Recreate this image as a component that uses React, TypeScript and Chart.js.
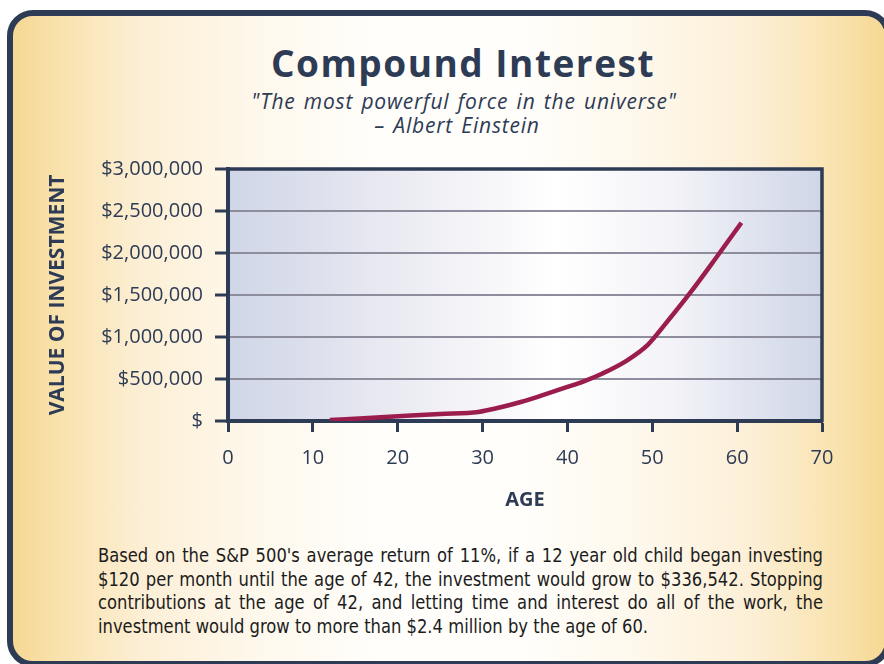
import React, { useEffect, useRef } from "react";
import { Chart, registerables } from "chart.js";

Chart.register(...registerables);

// ---- data ----
const ages = [12, 16, 21, 25, 29.5, 32, 34.5, 37, 40, 42, 44, 47, 49.5, 51.5, 54.5, 57.5, 60.5];
const values = [12000, 34000, 62000, 84000, 108000, 160000, 226000, 305000, 405000, 475000, 560000, 720000, 910000, 1150000, 1530000, 1940000, 2360000];
const yTickLabels = ["$", "$500,000", "$1,000,000", "$1,500,000", "$2,000,000", "$2,500,000", "$3,000,000"];
const xMin = 0;
const xMax = 70;
const xStep = 10;
const yMax = 3000000;
const yStep = 500000;

const titleText = "Compound Interest";
const quoteLine1 = "\"The most powerful force in the universe\"";
const quoteLine2 = "– Albert Einstein";
const xTitle = "AGE";
const yTitle = "VALUE OF INVESTMENT";
const paragraphLines = [
  "Based on the S&P 500's average return of 11%, if a 12 year old child began investing",
  "$120 per month until the age of 42, the investment would grow to $336,542. Stopping",
  "contributions at the age of 42, and letting time and interest do all of the work, the",
  "investment would grow to more than $2.4 million by the age of 60.",
];

const NAVY = "#2e3b55";
const CANVAS_TOP = 145;
const CANVAS_H = 385;
const PARA_SCALE = 0.91;

const plotDecor = {
  id: "plotDecor",
  beforeDraw(chart: any) {
    const { ctx, chartArea } = chart;
    const { left, right, top, bottom } = chartArea;
    const g = ctx.createLinearGradient(left, 0, right, 0);
    g.addColorStop(0, "#cfd6e7");
    g.addColorStop(0.28, "#eaeaf2");
    g.addColorStop(0.55, "#ffffff");
    g.addColorStop(0.75, "#f3f3f8");
    g.addColorStop(1, "#cfd6e7");
    ctx.save();
    ctx.fillStyle = g;
    ctx.fillRect(left, top, right - left, bottom - top);
    ctx.restore();
  },
  afterDraw(chart: any) {
    const { ctx, chartArea } = chart;
    const { left, right, top, bottom } = chartArea;
    ctx.save();
    ctx.strokeStyle = NAVY;
    ctx.lineWidth = 3.5;
    ctx.beginPath();
    ctx.moveTo(left, top);
    ctx.lineTo(right, top);
    ctx.lineTo(right, bottom + 1);
    ctx.stroke();
    ctx.restore();
  },
};

function CompoundChart() {
  const ref = useRef<HTMLCanvasElement | null>(null);
  useEffect(() => {
    if (!ref.current) return;
    const chart = new Chart(ref.current, {
      type: "line",
      data: {
        datasets: [
          {
            data: ages.map((a, i) => ({ x: a, y: values[i] })),
            borderColor: "#9b1d4e",
            borderWidth: 4.5,
            pointRadius: 0,
            cubicInterpolationMode: "monotone",
            fill: false,
          },
        ],
      },
      options: {
        responsive: false,
        animation: false,
        devicePixelRatio: 1,
        layout: { padding: { top: 0, right: 62, left: 0, bottom: 0 } },
        plugins: {
          legend: { display: false },
          tooltip: { enabled: false },
          title: { display: false },
        },
        scales: {
          x: {
            type: "linear",
            min: xMin,
            max: xMax,
            afterFit: (s: any) => {
              s.height = 109;
            },
            ticks: {
              stepSize: xStep,
              color: NAVY,
              font: { family: "'Open Sans', sans-serif", size: 20 },
              padding: 14,
              maxRotation: 0,
            },
            grid: {
              drawOnChartArea: false,
              drawTicks: true,
              tickLength: 11,
              tickColor: NAVY,
              tickWidth: 3,
            },
            border: { color: NAVY, width: 4 },
            title: {
              display: true,
              text: xTitle,
              color: NAVY,
              font: { family: "'Open Sans', sans-serif", size: 20, weight: "bold" },
              padding: { top: 0, bottom: 18 },
            },
          },
          y: {
            min: 0,
            max: yMax,
            afterFit: (s: any) => {
              s.width = 228;
            },
            ticks: {
              stepSize: yStep,
              color: NAVY,
              font: { family: "'Open Sans', sans-serif", size: 20 },
              padding: 12,
              callback: (_v: any, i: number) => yTickLabels[i],
            },
            grid: {
              color: "#8d8d9d",
              lineWidth: 2,
              drawTicks: true,
              tickLength: 13,
              tickColor: NAVY,
              tickWidth: 3,
            },
            border: { color: NAVY, width: 4 },
            title: {
              display: true,
              text: yTitle,
              color: NAVY,
              font: { family: "'Open Sans', sans-serif", size: 21, weight: "bold" },
              padding: { top: 45, bottom: 0 },
            },
          },
        },
      },
      plugins: [plotDecor],
    } as any);
    return () => chart.destroy();
  }, []);
  return (
    <canvas
      ref={ref}
      width={884}
      height={CANVAS_H}
      style={{ position: "absolute", left: 0, top: CANVAS_TOP, width: 884, height: CANVAS_H }}
    />
  );
}

export default function App() {
  const frameBg =
    "linear-gradient(to right, #f5d893 0%, #f9e3b0 6%, #fcefd6 15%, #fef8ec 28%, #fffefb 42%, #fffefb 58%, #fef8ec 72%, #fcefd6 85%, #f9e3b0 94%, #f5d893 100%)";
  const quoteStyle: any = {
    position: "absolute",
    width: 600,
    textAlign: "center",
    fontFamily: "'Open Sans', sans-serif",
    fontStyle: "italic",
    fontSize: 21,
    letterSpacing: "0.8px",
    wordSpacing: "2px",
    lineHeight: "24px",
    color: NAVY,
  };
  return (
    <div
      style={{
        position: "fixed",
        left: 0,
        top: 0,
        width: 884,
        height: 664,
        overflow: "hidden",
        background: "#ffffff",
      }}
    >
      <div
        style={{
          position: "absolute",
          left: 7,
          top: 10,
          width: 884,
          height: 657,
          boxSizing: "border-box",
          border: `6px solid ${NAVY}`,
          borderRadius: 26,
          background: frameBg,
        }}
      />
      <div
        style={{
          position: "absolute",
          left: 163,
          width: 600,
          top: 43,
          textAlign: "center",
          fontFamily: "'Open Sans', sans-serif",
          fontWeight: 700,
          fontSize: 37,
          letterSpacing: "1.5px",
          lineHeight: "40px",
          color: NAVY,
        }}
      >
        {titleText}
      </div>
      <div style={{ ...quoteStyle, left: 164, top: 89 }}>{quoteLine1}</div>
      <div style={{ ...quoteStyle, left: 157, top: 113 }}>{quoteLine2}</div>
      <CompoundChart />
      <div
        style={{
          position: "absolute",
          left: 98,
          top: 544,
          width: 725 / PARA_SCALE,
          transform: `scaleX(${PARA_SCALE})`,
          transformOrigin: "0 0",
          fontFamily: "'DejaVu Sans Condensed', sans-serif",
          fontSize: 20,
          lineHeight: "23.6px",
          color: "#1c1c1c",
        }}
      >
        {paragraphLines.map((l, i) => (
          <div
            key={i}
            style={{
              textAlign: i < paragraphLines.length - 1 ? "justify" : "left",
              textAlignLast: i < paragraphLines.length - 1 ? "justify" : "left",
              whiteSpace: "nowrap",
            } as any}
          >
            {l}
          </div>
        ))}
      </div>
    </div>
  );
}
